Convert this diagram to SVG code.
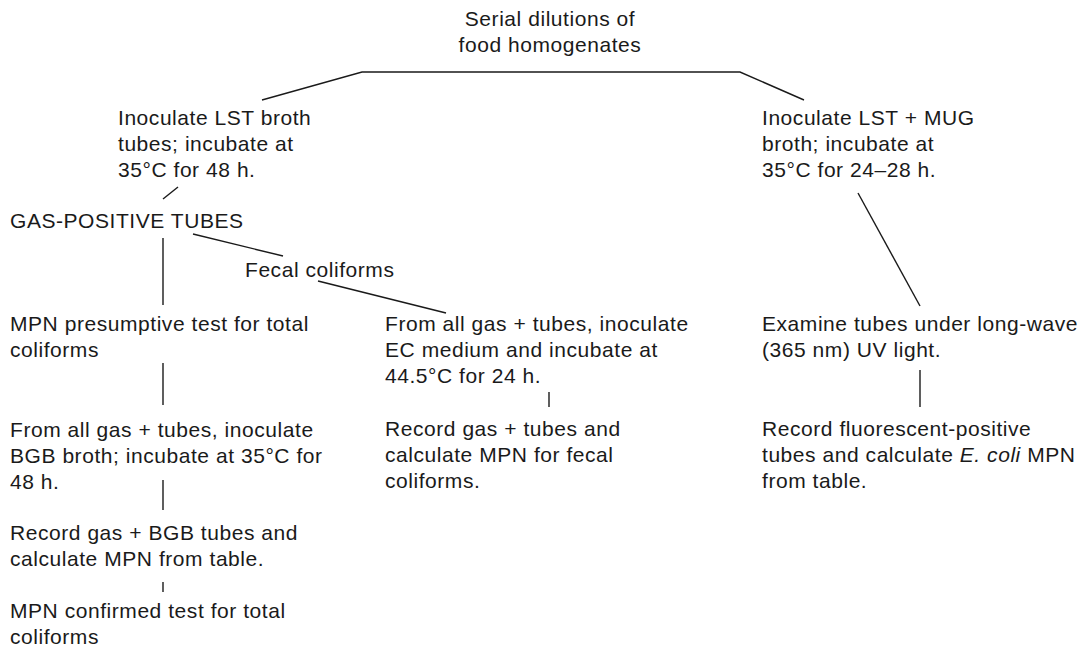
<svg xmlns="http://www.w3.org/2000/svg" width="1080" height="648" viewBox="0 0 1080 648">
<style>
text{font-family:"Liberation Sans",Arial,sans-serif;font-size:21px;fill:#1a1a1a;letter-spacing:0.55px}
.c{text-anchor:middle}
line,polyline{stroke:#1a1a1a;stroke-width:1.4;fill:none}
</style>
<rect width="1080" height="648" fill="#fff"/>
<g id="connectors">
<polyline points="262,100 362,72 740,72 804,100"/>
<line x1="178" y1="187" x2="163" y2="199"/>
<line x1="193" y1="234" x2="283" y2="256"/>
<line x1="318" y1="281" x2="446" y2="313"/>
<line x1="163" y1="238" x2="163" y2="305"/>
<line x1="163" y1="363" x2="163" y2="405"/>
<line x1="163" y1="480" x2="163" y2="510"/>
<line x1="163" y1="582" x2="163" y2="592"/>
<line x1="549" y1="392" x2="549" y2="407"/>
<line x1="858" y1="193" x2="920" y2="306"/>
<line x1="920" y1="370" x2="920" y2="407"/>
</g>
<g id="n-serial"><text class="c" x="550" y="26">Serial dilutions of</text><text class="c" x="550" y="52">food homogenates</text></g>
<g id="n-lst"><text x="118" y="125">Inoculate LST broth</text><text x="118" y="151">tubes; incubate at</text><text x="118" y="177">35°C for 48 h.</text></g>
<g id="n-gas"><text x="10" y="228">GAS-POSITIVE TUBES</text></g>
<g id="n-fecal"><text x="245" y="277">Fecal coliforms</text></g>
<g id="n-presumptive"><text x="10" y="331">MPN presumptive test for total</text><text x="10" y="357">coliforms</text></g>
<g id="n-bgb"><text x="10" y="437">From all gas + tubes, inoculate</text><text x="10" y="463">BGB broth; incubate at 35°C for</text><text x="10" y="489">48 h.</text></g>
<g id="n-recordbgb"><text x="10" y="540">Record gas + BGB tubes and</text><text x="10" y="566">calculate MPN from table.</text></g>
<g id="n-confirmed"><text x="10" y="618">MPN confirmed test for total</text><text x="10" y="644">coliforms</text></g>
<g id="n-ec"><text x="385" y="331">From all gas + tubes, inoculate</text><text x="385" y="357">EC medium and incubate at</text><text x="385" y="383">44.5°C for 24 h.</text></g>
<g id="n-recordfecal"><text x="385" y="436">Record gas + tubes and</text><text x="385" y="462">calculate MPN for fecal</text><text x="385" y="488">coliforms.</text></g>
<g id="n-mug"><text x="762" y="125">Inoculate LST + MUG</text><text x="762" y="151">broth; incubate at</text><text x="762" y="177">35°C for 24–28 h.</text></g>
<g id="n-uv"><text x="762" y="331">Examine tubes under long-wave</text><text x="762" y="357">(365 nm) UV light.</text></g>
<g id="n-ecoli"><text x="762" y="436">Record fluorescent-positive</text><text x="762" y="462">tubes and calculate <tspan font-style="italic">E. coli</tspan> MPN</text><text x="762" y="488">from table.</text></g>
</svg>
